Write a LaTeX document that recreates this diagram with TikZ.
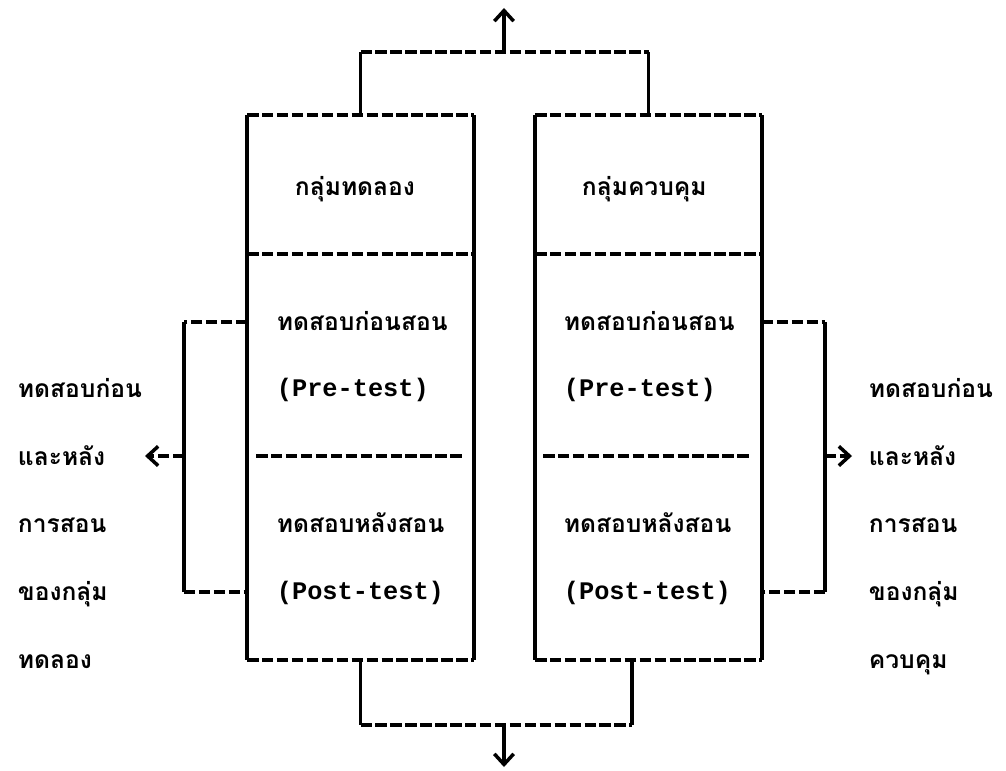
\documentclass[tikz,border=0pt]{standalone}
\usepackage{fontspec}
\newfontfamily\thaifont[Script=Thai]{Loma}
\setmonofont{Liberation Mono}
\usetikzlibrary{positioning,calc,arrows,arrows.meta}
\tikzset{font=\thaifont\bfseries\fontsize{14}{17}\selectfont}

\begin{document}
\begin{tikzpicture}[x=0.02cm, y=-0.02cm, line width=2.2pt]
	\useasboundingbox (0,0) rectangle (1006,770);
	\tikzstyle{every node}=[inner sep=0pt]
	\tikzstyle{hline}=[dash pattern=on 6.5pt off 2pt]
	\tikzstyle{vline}=[solid]
	\tikzstyle{grp}=[minimum width=4.46cm, minimum height=10.82cm]
	\tikzstyle{txt}=[anchor=base west]
	\tikzstyle{eng}=[anchor=base west, font=\ttfamily\bfseries\fontsize{14.4}{17}\selectfont]
	\tikzstyle{tip}=[-{Straight Barb[length=6pt, width=11pt, line width=2pt]}]

	\node[grp] (exp) at (360.5, 387.5) {};
	\node[grp] (ctl) at (648.5, 387.5) {};

	\coordinate (top) at (504, 52);
	\coordinate (topend) at (504, 8);
	\coordinate (bot) at (504, 725);
	\coordinate (botend) at (504, 767);
	\coordinate (div1) at (0, 254);
	\coordinate (div2) at (0, 456);
	\coordinate (pre) at (0, 322);
	\coordinate (post) at (0, 592);
	\coordinate (lbr) at (184, 456);
	\coordinate (lend) at (145, 456);
	\coordinate (rbr) at (825, 456);
	\coordinate (rend) at (852, 456);

	\node[txt] (expname) at (293, 195) {กลุ่มทดลอง};
	\node[txt] (ctlname) at (580, 195) {กลุ่มควบคุม};

	\node[txt] (exppre) at (275, 330) {ทดสอบก่อนสอน};
	\node[eng] (exppreen) at (275, 396) {(Pre-test)};
	\node[txt] (exppost) at (275, 532) {ทดสอบหลังสอน};
	\node[eng] (expposten) at (275, 599) {(Post-test)};

	\node[txt] (ctlpre) at (562, 330) {ทดสอบก่อนสอน};
	\node[eng] (ctlpreen) at (562, 396) {(Pre-test)};
	\node[txt] (ctlpost) at (562, 532) {ทดสอบหลังสอน};
	\node[eng] (ctlposten) at (562, 599) {(Post-test)};

	\node[txt] (l1) at (16, 397) {ทดสอบก่อน};
	\node[txt] (l2) at (16, 465) {และหลัง};
	\node[txt] (l3) at (16, 532) {การสอน};
	\node[txt] (l4) at (16, 600) {ของกลุ่ม};
	\node[txt] (l5) at (16, 668) {ทดลอง};

	\node[txt] (r1) at (867, 397) {ทดสอบก่อน};
	\node[txt] (r2) at (867, 465) {และหลัง};
	\node[txt] (r3) at (867, 532) {การสอน};
	\node[txt] (r4) at (867, 600) {ของกลุ่ม};
	\node[txt] (r5) at (867, 668) {ควบคุม};

	\draw [vline] (exp.north west) to (exp.south west);
	\draw [vline] (exp.north east) to (exp.south east);
	\draw [hline] (exp.north west) to (exp.north east);
	\draw [hline] (exp.south west) to (exp.south east);
	\draw [hline] (exp.west |- div1) to (exp.east |- div1);
	\draw [hline, shorten <=0.18cm, shorten >=0.2cm] (exp.west |- div2) to (exp.east |- div2);

	\draw [vline] (ctl.north west) to (ctl.south west);
	\draw [vline] (ctl.north east) to (ctl.south east);
	\draw [hline] (ctl.north west) to (ctl.north east);
	\draw [hline] (ctl.south west) to (ctl.south east);
	\draw [hline] (ctl.west |- div1) to (ctl.east |- div1);
	\draw [hline, shorten <=0.16cm, shorten >=0.24cm] (ctl.west |- div2) to (ctl.east |- div2);

	\draw [vline] (exp.north) to (exp.north |- top);
	\draw [hline] (exp.north |- top) to (ctl.north |- top);
	\draw [vline] (ctl.north |- top) to (ctl.north);
	\draw [vline, tip] (top) to (topend);

	\draw [vline] (exp.south) to (exp.south |- bot);
	\draw [hline] (exp.south |- bot) to ([xshift=-0.33cm]ctl.south |- bot);
	\draw [vline] ([xshift=-0.33cm]ctl.south |- bot) to ([xshift=-0.33cm]ctl.south);
	\draw [vline, tip] (bot) to (botend);

	\draw [hline] (exp.west |- pre) to (lbr |- pre);
	\draw [vline] (lbr |- pre) to (lbr |- post);
	\draw [hline] (lbr |- post) to (exp.west |- post);
	\draw [hline, tip] (lbr) to (lend);

	\draw [hline] (ctl.east |- pre) to (rbr |- pre);
	\draw [vline] (rbr |- pre) to (rbr |- post);
	\draw [hline] (rbr |- post) to (ctl.east |- post);
	\draw [hline, tip] (rbr) to (rend);
\end{tikzpicture}
\end{document}
